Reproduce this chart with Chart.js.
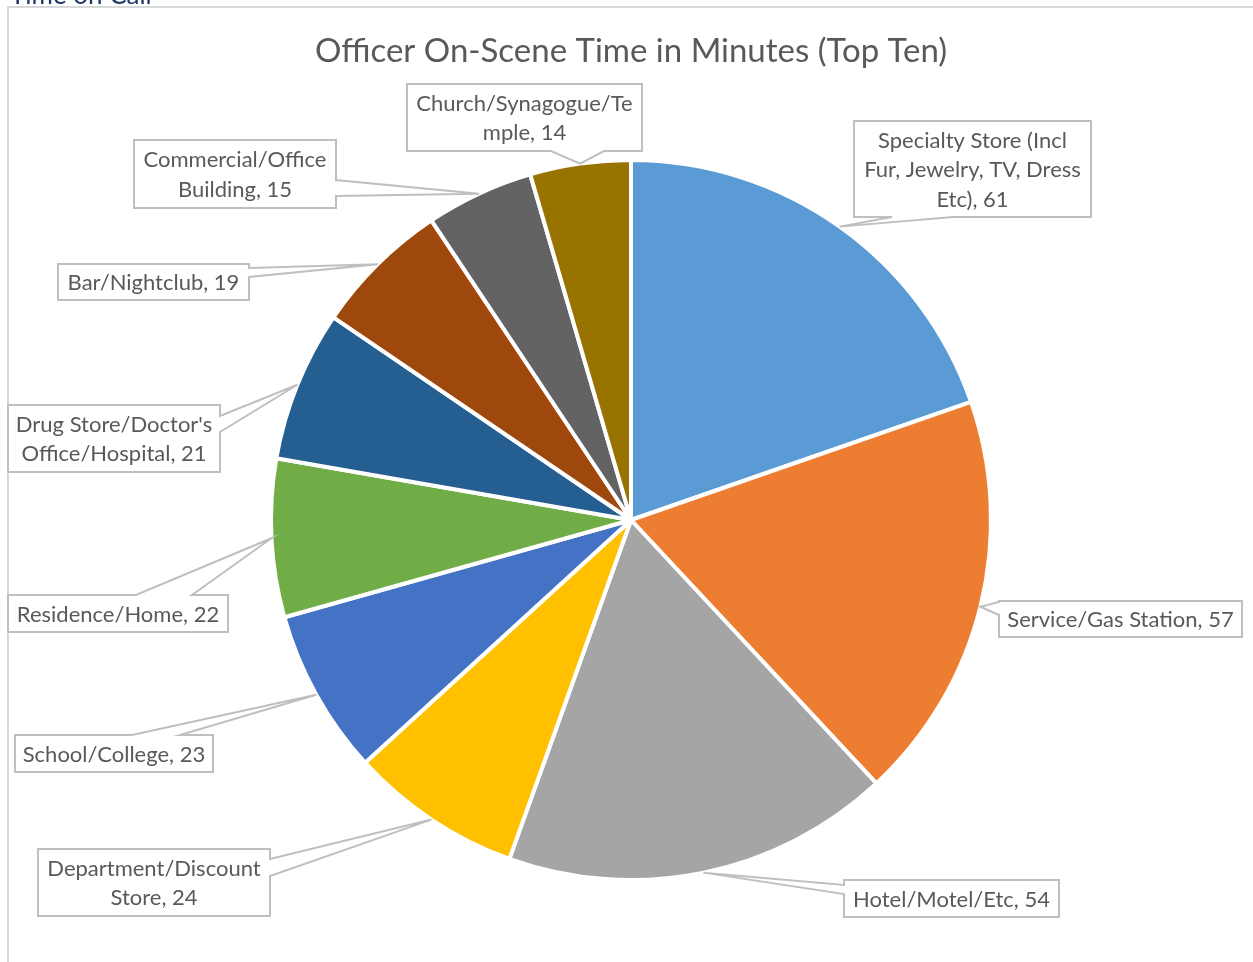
<!DOCTYPE html>
<html>
<head>
<meta charset="utf-8">
<script src="https://cdn.jsdelivr.net/npm/chart.js@4/dist/chart.umd.min.js"></script>
<style>
  html, body { margin: 0; padding: 0; background: #fff; }
  canvas { display: block; }
</style>
</head>
<body>
<canvas id="chart" width="1253" height="962"></canvas>
<script>
// data
const categories = [
  'Specialty Store (Incl Fur, Jewelry, TV, Dress Etc)',
  'Service/Gas Station',
  'Hotel/Motel/Etc',
  'Department/Discount Store',
  'School/College',
  'Residence/Home',
  "Drug Store/Doctor's Office/Hospital",
  'Bar/Nightclub',
  'Commercial/Office Building',
  'Church/Synagogue/Temple'
];
const minutes = [61, 57, 54, 24, 23, 22, 21, 19, 15, 14];
const labelLines = [
  ['Specialty Store (Incl', 'Fur, Jewelry, TV, Dress', 'Etc), 61'],
  ['Service/Gas Station, 57'],
  ['Hotel/Motel/Etc, 54'],
  ['Department/Discount', 'Store, 24'],
  ['School/College, 23'],
  ['Residence/Home, 22'],
  ["Drug Store/Doctor's", 'Office/Hospital, 21'],
  ['Bar/Nightclub, 19'],
  ['Commercial/Office', 'Building, 15'],
  ['Church/Synagogue/Te', 'mple, 14']
];
const titleText = 'Officer On-Scene Time in Minutes (Top Ten)';

// look
const sliceColors = ['#5B9BD5', '#ED7D31', '#A5A5A5', '#FFC000', '#4472C4',
                     '#70AD47', '#255E91', '#9E480E', '#636363', '#997300'];

// callout boxes: x, y, w, h, side the pointer leaves from, and its two base points on that side
const callouts = [
  { x: 854, y: 121, w: 237, h: 96, side: 'bottom', a: 892, b: 953 },
  { x: 999, y: 601, w: 243, h: 36, side: 'left', a: 602, b: 615 },
  { x: 844, y: 880, w: 215, h: 37, side: 'left', a: 885, b: 894 },
  { x: 38, y: 849, w: 232, h: 67, side: 'right', a: 859, b: 876 },
  { x: 15, y: 735, w: 198, h: 37, side: 'top', a: 132, b: 180 },
  { x: 8, y: 595, w: 220, h: 37, side: 'top', a: 136, b: 192 },
  { x: 8, y: 405, w: 212, h: 67, side: 'right', a: 416, b: 432 },
  { x: 58, y: 264, w: 191, h: 36, side: 'right', a: 268, b: 277 },
  { x: 134, y: 140, w: 202, h: 68, side: 'right', a: 180, b: 196 },
  { x: 407, y: 84, w: 235, h: 67, side: 'bottom', a: 551, b: 604 }
];

function calloutPath(ctx, c, tip) {
  const l = c.x, t = c.y, r = c.x + c.w, btm = c.y + c.h;
  ctx.beginPath();
  ctx.moveTo(l, t);
  if (c.side === 'top') { ctx.lineTo(c.a, t); ctx.lineTo(tip.x, tip.y); ctx.lineTo(c.b, t); }
  ctx.lineTo(r, t);
  if (c.side === 'right') { ctx.lineTo(r, c.a); ctx.lineTo(tip.x, tip.y); ctx.lineTo(r, c.b); }
  ctx.lineTo(r, btm);
  if (c.side === 'bottom') { ctx.lineTo(c.b, btm); ctx.lineTo(tip.x, tip.y); ctx.lineTo(c.a, btm); }
  ctx.lineTo(l, btm);
  if (c.side === 'left') { ctx.lineTo(l, c.b); ctx.lineTo(tip.x, tip.y); ctx.lineTo(l, c.a); }
  ctx.closePath();
}

const decorPlugin = {
  id: 'decor',
  beforeDraw(chart) {
    const ctx = chart.ctx;
    ctx.save();
    ctx.fillStyle = '#fff';
    ctx.fillRect(0, 0, chart.width, chart.height);
    // sheet heading, cut off at the top
    ctx.fillStyle = '#1F3864';
    ctx.font = '26px Lato';
    ctx.textBaseline = 'alphabetic';
    ctx.fillText('Time on Call', 10, 4);
    // chart frame
    ctx.strokeStyle = '#D9D9D9';
    ctx.lineWidth = 2;
    ctx.beginPath();
    ctx.moveTo(8, 970);
    ctx.lineTo(8, 7);
    ctx.lineTo(1260, 7);
    ctx.stroke();
    // title
    ctx.fillStyle = '#595959';
    ctx.font = '33px Lato';
    ctx.textAlign = 'center';
    ctx.textBaseline = 'middle';
    ctx.fillText(titleText, 631, 51);
    ctx.restore();
  },
  afterDatasetsDraw(chart) {
    const ctx = chart.ctx;
    const arcs = chart.getDatasetMeta(0).data;
    ctx.save();
    ctx.font = '22px Lato';
    ctx.textAlign = 'center';
    ctx.textBaseline = 'middle';
    arcs.forEach((arc, i) => {
      const p = arc.getProps(['x', 'y', 'startAngle', 'endAngle', 'outerRadius']);
      const mid = (p.startAngle + p.endAngle) / 2;
      const tip = { x: p.x + Math.cos(mid) * p.outerRadius, y: p.y + Math.sin(mid) * p.outerRadius };
      const c = callouts[i];
      calloutPath(ctx, c, tip);
      ctx.fillStyle = '#fff';
      ctx.fill();
      ctx.strokeStyle = '#BFBFBF';
      ctx.lineWidth = 2;
      ctx.stroke();
      const lines = labelLines[i];
      const lh = 29.5;
      const cy = c.y + c.h / 2 - (lines.length - 1) * lh / 2;
      ctx.fillStyle = '#595959';
      lines.forEach((s, k) => ctx.fillText(s, c.x + c.w / 2, cy + k * lh + 1));
    });
    ctx.restore();
  }
};

new Chart(document.getElementById('chart').getContext('2d'), {
  type: 'pie',
  data: {
    labels: categories,
    datasets: [{
      data: minutes,
      backgroundColor: sliceColors,
      borderColor: '#fff',
      borderWidth: 4,
      hoverOffset: 0
    }]
  },
  options: {
    responsive: false,
    devicePixelRatio: 1,
    animation: false,
    layout: { padding: { top: 158, bottom: 80, left: 200, right: 191 } },
    plugins: {
      legend: { display: false },
      tooltip: { enabled: false },
      title: { display: false }
    }
  },
  plugins: [decorPlugin]
});
</script>
</body>
</html>
